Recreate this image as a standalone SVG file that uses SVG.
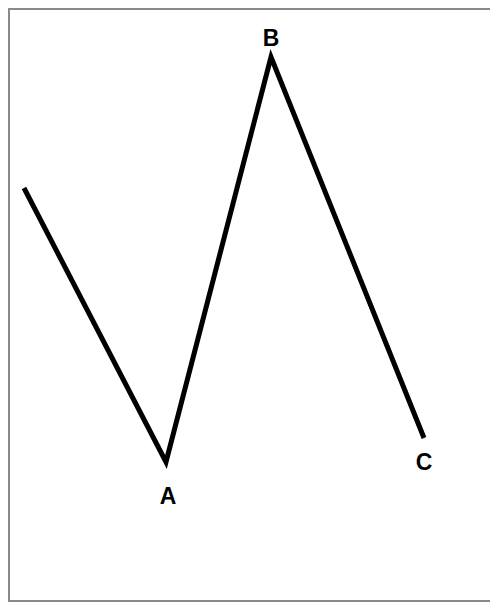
<svg xmlns="http://www.w3.org/2000/svg" width="490" height="603" viewBox="0 0 490 603">
<style>
.lbl{font-family:"Liberation Sans",Arial,sans-serif;font-weight:bold;font-size:23px;fill:#000;text-anchor:middle}
.wave{fill:none;stroke:#000;stroke-width:5;stroke-linejoin:miter;stroke-linecap:butt}
</style>
<rect x="0" y="0" width="490" height="603" fill="#fff"/>
<rect x="9" y="9" width="490" height="592" fill="#fff" stroke="#8a8a8a" stroke-width="2"/>
<g id="connectors">
<polyline class="wave" points="24,188 166,462 271,57 424,438"/>
</g>
<g id="A"><text class="lbl" x="168" y="504">A</text></g>
<g id="B"><text class="lbl" x="271" y="46">B</text></g>
<g id="C"><text class="lbl" x="424" y="470">C</text></g>
</svg>
